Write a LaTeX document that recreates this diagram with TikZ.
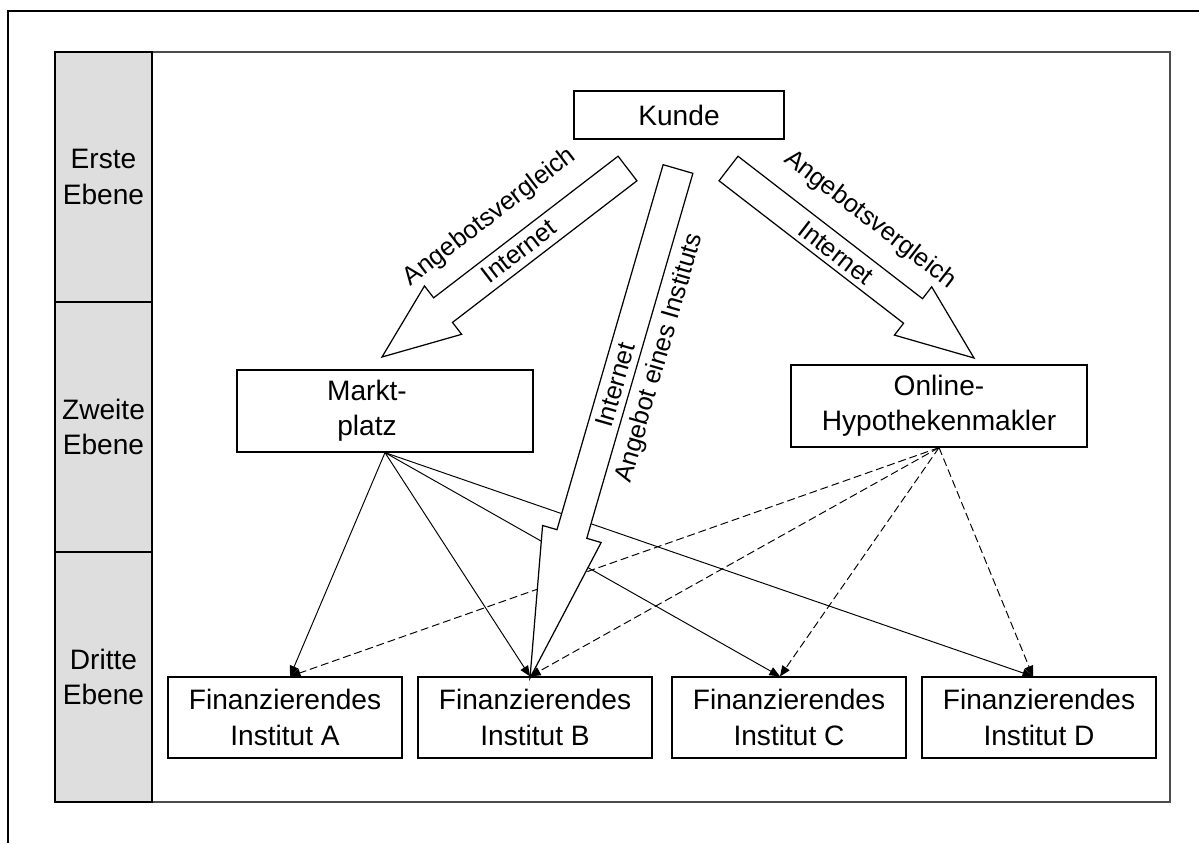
\documentclass[tikz,border=0pt]{standalone}
\usepackage{fontspec}
\setmainfont{Liberation Sans}
\usetikzlibrary{calc, arrows.meta}

\tikzset{
  box/.style={draw, line width=0.7pt, fill=white, align=center, inner sep=0pt, font=\fontsize{16}{20}\selectfont},
  lane/.style={draw, line width=0.7pt, fill=black!13, align=center, minimum width=1.94cm, minimum height=5cm, inner sep=0pt, font=\fontsize{16}{20}\selectfont},
  via/.style={font=\fontsize{14.5}{17}\selectfont, inner sep=0pt},
  link/.style={-{Triangle[length=6pt,width=5pt]}, line width=0.55pt},
  offer/.style={link, dash pattern=on 4.5pt off 2.2pt},
  bigarrow/.style={fill=white, draw, line width=0.7pt, line join=miter}
}

% block arrow: tail, tip, head length
\newcommand{\blockarrow}[3]{%
  \coordinate (#1-h) at ($(#2)!#3!(#1)$);
  \filldraw[bigarrow] ($(#1)!0.31cm!90:(#2)$) -- ($(#1-h)!0.31cm!90:(#2)$)
    -- ($(#1-h)!0.61cm!90:(#2)$) -- (#2) -- ($(#1-h)!0.61cm!-90:(#2)$)
    -- ($(#1-h)!0.31cm!-90:(#2)$) -- ($(#1)!0.31cm!-90:(#2)$) -- cycle;}

\begin{document}
\begin{tikzpicture}[x=0.02cm, y=-0.02cm]
  \useasboundingbox (0,0) rectangle (1199,843);

  % frames
  \draw[line width=1.1pt] (8,843) -- (8,11) -- (1199,11);
  \draw[line width=0.8pt, black!70] (55,52) rectangle (1170,802);

  % levels
  \node[lane] (erste) at (103.5,177) {Erste\\Ebene};
  \node[lane] (zweite) at (103.5,427) {Zweite\\Ebene};
  \node[lane] (dritte) at (103.5,677) {Dritte\\Ebene};

  % boxes
  \node[box, minimum width=4.2cm, minimum height=0.96cm] (kunde) at (679,115) {Kunde};
  \node[box, minimum width=5.92cm, minimum height=1.64cm] (markt) at (385,411) {\hspace*{-0.72cm}Markt-\\\hspace*{-0.72cm}platz};
  \node[box, minimum width=5.92cm, minimum height=1.64cm] (online) at (939,406) {Online-\\Hypothekenmakler};
  \foreach \n/\x in {A/285, B/535, C/789, D/1039}
    \node[box, minimum width=4.68cm, minimum height=1.62cm] (\n) at (\x,717.5) {Finanzierendes\\Institut \n};

  % thin connectors
  \foreach \n/\s in {A/0.1cm, B/-0.1cm, C/-0.18cm, D/-0.12cm} {
    \draw[link] (markt.south) -- ([xshift=\s]\n.north);
    \draw[offer] (online.south) -- ([xshift=\s]\n.north);
  }

  % big arrows
  \coordinate (mtail) at (627.5,168.5);
  \coordinate (mtip) at (382,357);
  \coordinate (itail) at (678,169);
  \coordinate (itip) at (530,678);
  \coordinate (otail) at (728.5,168.5);
  \coordinate (otip) at (974,358);
  \blockarrow{mtail}{mtip}{1.54cm}
  \blockarrow{itail}{itip}{3cm}
  \blockarrow{otail}{otip}{1.54cm}

  % labels
  \node[via, rotate=37.5] (mvgl) at (490,217) {Angebotsvergleich};
  \node[via, rotate=37.5] (mnet) at (519,251) {Internet};
  \node[via, rotate=-37.7] (ovgl) at (870,220) {Angebotsvergleich};
  \node[via, rotate=-37.7] (onet) at (836,253) {Internet};
  \node[via, rotate=73.8] (inet) at (615,385) {Internet};
  \node[via, rotate=73.8] (iinst) at (660,358) {Angebot eines Instituts};
\end{tikzpicture}
\end{document}
